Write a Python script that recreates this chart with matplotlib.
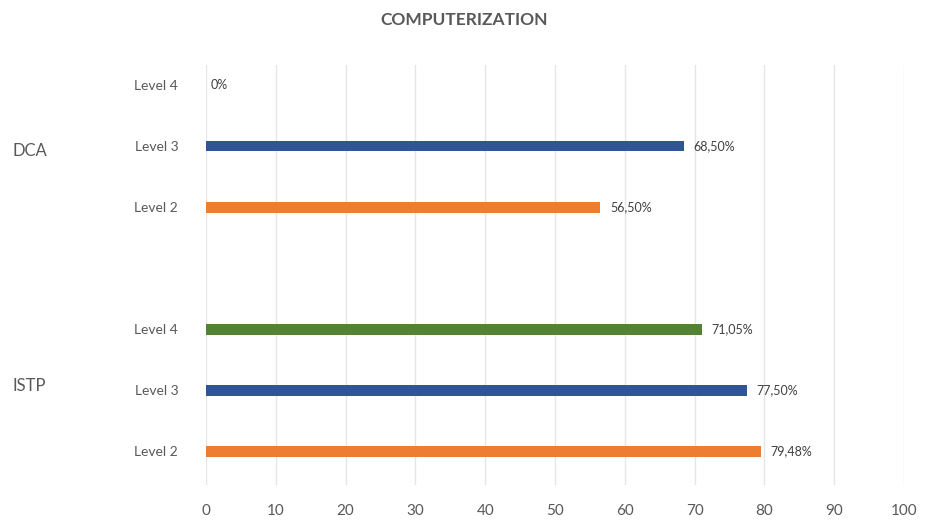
import matplotlib.pyplot as plt
from matplotlib.transforms import blended_transform_factory

# data, bottom to top as drawn
groups = ["ISTP", "DCA"]
levels = ["Level 2", "Level 3", "Level 4"]
istp_values = [79.48, 77.50, 71.05]
dca_values = [56.50, 68.50, 0.0]
istp_labels = ["79,48%", "77,50%", "71,05%"]
dca_labels = ["56,50%", "68,50%", "0%"]
level_colors = {"Level 2": "#ED7D31", "Level 3": "#2F5597", "Level 4": "#548235"}
x_ticks = [0, 10, 20, 30, 40, 50, 60, 70, 80, 90, 100]

plt.rcParams['font.family'] = ['Lato', 'DejaVu Sans']

fig = plt.figure(figsize=(9.28, 5.21), dpi=100)
ax = fig.add_axes([0.222, 0.069, 0.752, 0.806])

# slot positions: ISTP 0..2, empty slot 3, DCA 4..6
istp_pos = [0, 1, 2]
dca_pos = [4, 5, 6]

for pos, vals, labs in [(istp_pos, istp_values, istp_labels), (dca_pos, dca_values, dca_labels)]:
    cols = [level_colors[l] for l in levels]
    ax.barh(pos, vals, height=0.17, color=cols, zorder=3)
    for p, v, t in zip(pos, vals, labs):
        ax.text(v + (0.7 if v == 0 else 1.4), p, t, va='center', ha='left', fontsize=9, color='#404040')

ax.set_yticks(istp_pos + dca_pos)
ax.set_yticklabels(levels + levels, fontsize=10, color='#595959')
ax.tick_params(axis='y', length=0, pad=20)
ax.set_xticks(x_ticks)
ax.set_xticklabels([str(t) for t in x_ticks], fontsize=11, color='#595959')
ax.tick_params(axis='x', length=0, pad=14)
ax.set_xlim(0, 100)
ax.set_ylim(-0.55, 6.33)
ax.grid(axis='x', color='#E6E6E6', linewidth=1, zorder=0)
for spine in ax.spines.values():
    spine.set_visible(False)

# group labels
trans = blended_transform_factory(fig.transFigure, ax.transData)
for g, pos, dy in zip(groups, [istp_pos, dca_pos], [0.07, -0.08]):
    ax.text(0.014, pos[1] + dy, g, transform=trans,
            ha='left', va='center', fontsize=12, color='#595959')

fig.text(0.5, 0.962, "COMPUTERIZATION", ha='center', va='center',
         fontsize=12.5, fontweight='bold', color='#595959')

fig.savefig("out.png", dpi=100, facecolor='white')
